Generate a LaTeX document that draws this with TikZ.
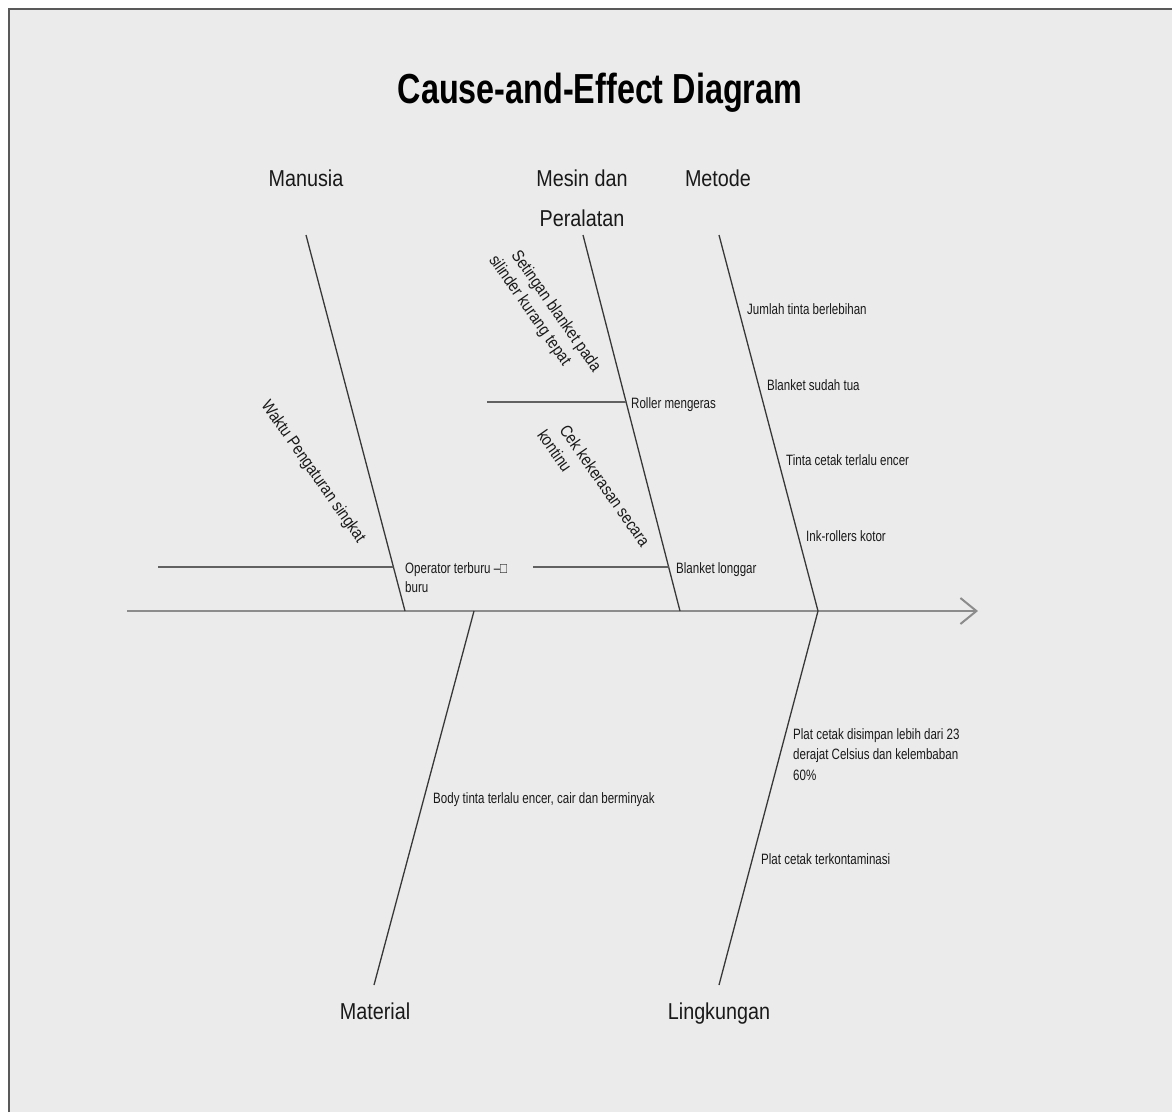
\documentclass[tikz,border=0pt]{standalone}
\usepackage{fontspec}
\setmainfont{Liberation Sans}
\newfontfamily\titlefont[FakeStretch=0.77]{Liberation Sans}
\newfontfamily\labfont[FakeStretch=0.86]{Liberation Sans}
\newfontfamily\smallfont[FakeStretch=0.77]{Liberation Sans}
\newfontfamily\rotfont[FakeStretch=0.85]{Liberation Sans}
\usetikzlibrary{arrows.meta,calc}
\definecolor{bgcol}{HTML}{EBEBEB}
\begin{document}
\begin{tikzpicture}[x=1pt,y=-1pt,
  bone/.style={draw=black!78, line width=1.3pt},
  twig/.style={draw=black!62, line width=1.8pt},
  spine/.style={draw=black!45, line width=1.8pt},
  cat/.style={font=\labfont\fontsize{23}{40}\selectfont, inner sep=0pt, anchor=north, align=center, text=black!90},
  cause/.style={font=\smallfont\fontsize{15}{20.5}\selectfont, inner sep=0pt, anchor=base west, align=left, text=black!90},
  sub/.style={font=\rotfont\fontsize{17}{21}\selectfont, inner sep=0pt, anchor=north west, align=left, rotate=-55, text=black!90},
]
\useasboundingbox (0,0) rectangle (1172,1112);
\fill[white] (0,0) rectangle (1172,1112);
\fill[bgcol] (9,9) rectangle (1172,1112);
\draw[black!65, line width=2pt] (9,1112) -- (9,9) -- (1172,9);

\node[font=\titlefont\bfseries\fontsize{42}{50}\selectfont, inner sep=0pt, anchor=base] (title) at (600,103) {Cause-and-Effect Diagram};

% category labels
\node[cat] (manusia) at (306,170) {Manusia};
\node[cat] (mesin) at (582,170) {Mesin dan\\Peralatan};
\node[cat] (metode) at (718,170) {Metode};
\node[cat] (material) at (375,1003) {Material};
\node[cat] (lingk) at (719,1003) {Lingkungan};

% spine
\coordinate (tail) at (127,611);
\coordinate (head) at (978,611);
\draw[spine, -{Straight Barb[length=16pt,width=26pt,line width=2pt]}] (tail) -- (head);

% bones
\coordinate (ma1) at (306,235); \coordinate (ma2) at (405,611);
\coordinate (me1) at (583,235); \coordinate (me2) at (680,611);
\coordinate (mt1) at (719,235); \coordinate (mt2) at (818,611);
\coordinate (mat1) at (374,985); \coordinate (mat2) at (474,611);
\coordinate (li1) at (719,985); \coordinate (li2) at (818,611);
\draw[bone] (ma1) -- (ma2);
\draw[bone] (me1) -- (me2);
\draw[bone] (mt1) -- (mt2);
\draw[bone] (mat1) -- (mat2);
\draw[bone] (li1) -- (li2);

% twigs
\coordinate (opL) at (158,567); \coordinate (opR) at ($(ma1)!0.883!(ma2)$);
\coordinate (roL) at (487,402); \coordinate (roR) at ($(me1)!0.4441!(me2)$);
\coordinate (blL) at (533,567); \coordinate (blR) at ($(me1)!0.883!(me2)$);
\draw[twig] (opL) -- (opR);
\draw[twig] (roL) -- (roR);
\draw[twig] (blL) -- (blR);

% causes
\node[cause, font=\smallfont\fontsize{15}{19.5}\selectfont] (oper) at (405,592.5) {Operator terburu –□\\buru};
\node[cause] (roller) at (631,408) {Roller mengeras};
\node[cause] (blong) at (676,573) {Blanket longgar};
\node[cause] (jumlah) at (747,314) {Jumlah tinta berlebihan};
\node[cause] (btua) at (767,390) {Blanket sudah tua};
\node[cause] (tinta) at (786,465) {Tinta cetak terlalu encer};
\node[cause] (ink) at (806,541) {Ink-rollers kotor};
\node[cause] (plat1) at (793,780) {Plat cetak disimpan lebih dari 23\\derajat Celsius dan kelembaban\\60\%};
\node[cause] (plat2) at (761,864) {Plat cetak terkontaminasi};
\node[cause] (body) at (433,803) {Body tinta terlalu encer, cair dan berminyak};

% sub-causes (rotated)
\node[sub] (waktu) at (271,398) {Waktu Pengaturan singkat};
\node[sub] (seting) at (521,248) {Setingan blanket pada\\\hspace*{-9pt}silinder kurang tepat};
\node[sub] (cek) at (569,423) {Cek kekerasan secara\\\hspace*{-9pt}kontinu};
\end{tikzpicture}
\end{document}
